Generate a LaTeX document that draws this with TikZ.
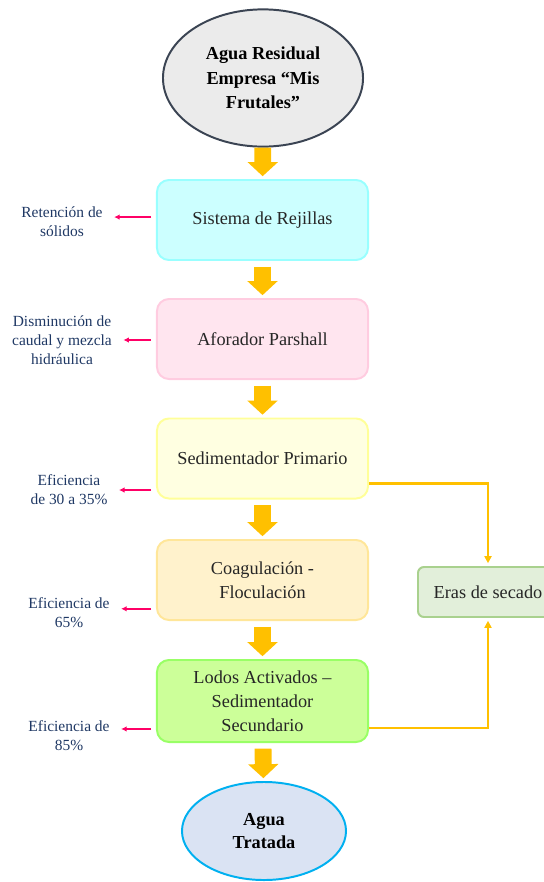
\documentclass[tikz,border=0pt]{standalone}
\usepackage{fontspec}
\setmainfont{Liberation Serif}
\usetikzlibrary{shapes.geometric,arrows.meta}

\definecolor{naranja}{HTML}{FFC000}
\definecolor{rosa}{HTML}{FF0066}
\definecolor{azul}{HTML}{1F3864}
\definecolor{grisborde}{HTML}{3B4453}

\tikzset{
  caja/.style={draw, rounded corners=0.3cm, line width=1.4pt, minimum width=5.275cm,
    minimum height=2cm, align=center, font=\fontsize{13}{17}\selectfont, text=black!85},
  flecha/.style={naranja, line width=12pt, -{Triangle[length=10pt,width=21pt]},
    shorten <=4pt, shorten >=2pt},
  lodo/.style={naranja, line width=1.6pt, -{Triangle[length=5pt,width=5pt]}, shorten >=2pt},
  indic/.style={rosa, line width=1.2pt, -{Latex[length=4pt,width=4pt]},
    shorten <=3.5pt, shorten >=8pt},
  nota/.style={azul, align=center, font=\fontsize{11}{13.5}\selectfont, inner sep=0pt}
}

\begin{document}
\begin{tikzpicture}[x=0.025cm,y=-0.025cm]

\useasboundingbox (0,0) rectangle (544,882);

% Entrada y salida
\node[ellipse, draw=grisborde, fill=black!8, line width=1.4pt, inner sep=0pt,
  minimum width=5cm, minimum height=3.43cm, align=center,
  font=\bfseries\fontsize{13}{17.5}\selectfont] (entrada) at (263,78)
  {Agua Residual\\Empresa “Mis\\Frutales”};
\node[ellipse, draw={rgb,255:red,0;green,176;blue,240}, fill={rgb,255:red,218;green,227;blue,243},
  line width=1.4pt, inner sep=0pt, minimum width=4.1cm, minimum height=2.45cm, align=center,
  font=\bfseries\fontsize{13}{16}\selectfont] (salida) at (264,831) {Agua\\Tratada};

% Etapas del tratamiento
\node[caja, draw={rgb,255:red,153;green,255;blue,255}, fill={rgb,255:red,204;green,255;blue,255}]
  (rejillas) at (262.5,220) {Sistema de Rejillas};
\node[caja, draw={rgb,255:red,255;green,204;blue,224}, fill={rgb,255:red,255;green,229;blue,239}]
  (parshall) at (262.5,339) {Aforador Parshall};
\node[caja, draw={rgb,255:red,255;green,255;blue,153}, fill={rgb,255:red,255;green,255;blue,225}]
  (primario) at (262.5,458.5) {Sedimentador Primario};
\node[caja, draw={rgb,255:red,255;green,230;blue,153}, fill={rgb,255:red,255;green,242;blue,204}]
  (coagula) at (262.5,580) {Coagulación -\\Floculación};
\node[caja, minimum height=2.05cm, draw={rgb,255:red,153;green,255;blue,102},
  fill={rgb,255:red,204;green,255;blue,153}]
  (lodos) at (262.5,701) {Lodos Activados –\\Sedimentador\\Secundario};

% Eras de secado
\node[caja, rounded corners=0.15cm, minimum width=3.5cm, minimum height=1.25cm,
  draw={rgb,255:red,169;green,209;blue,142}, fill={rgb,255:red,226;green,239;blue,218}]
  (eras) at (488,592) {Eras de secado};

% Notas de la izquierda
\node[nota] (n1) at (62,222) {Retención de\\sólidos};
\node[nota] (n2) at (62,340) {Disminución de\\caudal y mezcla\\hidráulica};
\node[nota] (n3) at (69,490) {Eficiencia\\de 30 a 35\%};
\node[nota] (n4) at (69,613) {Eficiencia de\\65\%};
\node[nota] (n5) at (69,736) {Eficiencia de\\85\%};

% Flechas principales
\draw[flecha, shorten <=0pt] (entrada) -- (rejillas);
\draw[flecha] (rejillas) -- (parshall);
\draw[flecha] (parshall) -- (primario);
\draw[flecha] (primario) -- (coagula);
\draw[flecha] (coagula) -- (lodos);
\draw[flecha] (lodos) -- (salida);

% Lodos hacia las eras
\draw[lodo] ([yshift=0.4cm]primario.south east) -| (eras.north);
\draw[lodo] ([yshift=0.375cm]lodos.south east) -| (eras.south);

% Flechas hacia las notas
\draw[indic] ([yshift=3.5pt]n1.east -| rejillas.west) -- ([yshift=3.5pt]n1.east);
\draw[indic] (n2.east -| parshall.west) -- (n2.east);
\draw[indic] (n3.east -| primario.west) -- (n3.east);
\draw[indic] ([yshift=3pt]n4.east -| coagula.west) -- ([yshift=3pt]n4.east);
\draw[indic] ([yshift=5pt]n5.east -| lodos.west) -- ([yshift=5pt]n5.east);

\end{tikzpicture}
\end{document}
